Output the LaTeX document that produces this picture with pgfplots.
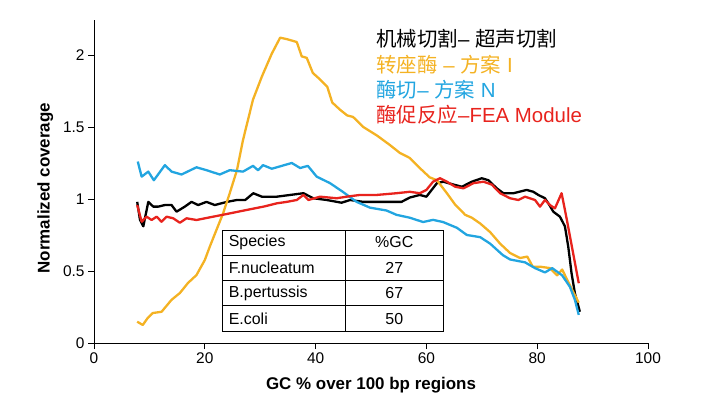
\documentclass[border=0pt]{standalone}
\usepackage{pgfplots}
\pgfplotsset{compat=1.18}
\usepackage{fontspec}
\setmainfont{Liberation Sans}
\newfontfamily\cjk{Noto Sans CJK SC}
\definecolor{cyel}{HTML}{F4B223}
\definecolor{cblue}{HTML}{22A5E0}
\definecolor{cred}{HTML}{E8231D}
\begin{document}
\begin{tikzpicture}[x=1bp,y=1bp]
\path[use as bounding box] (0,0) rectangle (707,398);
\begin{axis}[
  at={(94bp,55bp)}, anchor=south west,
  scale only axis, width=554bp, height=322.6bp,
  xmin=0, xmax=100, ymin=0, ymax=2.24,
  axis lines*=left,
  axis line style={black, line width=0.9bp},
  xtick={0,20,40,60,80,100},
  ytick={0,0.5,1,1.5,2},
  tick style={black, line width=0.9bp},
  tick align=outside,
  major tick length=6bp,
  /pgf/number format/assume math mode=true,
  ticklabel style={font=\fontsize{15.5}{18}\selectfont},
  yticklabel style={/pgf/number format/fixed},
  xlabel={GC \% over 100 bp regions},
  ylabel={Normalized coverage},
  xlabel style={font=\bfseries\fontsize{17}{20}\selectfont, at={(axis description cs:0.5,-0.130)}, anchor=center},
  ylabel style={font=\bfseries\fontsize{17}{20}\selectfont, at={(axis description cs:-0.088,0.48)}, anchor=center},
  legend style={draw=none, fill=none, at={(axis description cs:0.506,0.978)}, anchor=north west,
    font=\fontsize{20.5}{24}\selectfont, cells={anchor=west}, row sep=2.5bp, inner sep=0pt},
  legend image code/.code={},
  every axis plot/.append style={line width=2.3bp, line join=round},
]
\addplot[black] coordinates {
(7.8,0.98)(8.3,0.855)(8.9,0.81)(9.8,0.98)(10.7,0.947)(11.6,0.947)(12.8,0.958)(14.0,0.958)(14.9,0.912)(16.4,0.947)(17.6,0.98)(18.8,0.958)(20.3,0.98)(21.8,0.958)(24.0,0.98)(25.8,0.993)(27.3,0.993)(28.75,1.04)(30.3,1.016)(33.0,1.016)(35.4,1.028)(37.8,1.04)(39.6,1.005)(42.0,0.993)(44.7,0.974)(46.2,0.993)(48.6,0.98)(52.2,0.98)(55.5,0.98)(57.0,1.01)(58.8,1.028)(60.0,1.016)(61.9,1.11)(63.05,1.12)(64.9,1.10)(66.4,1.085)(68.2,1.12)(70.0,1.144)(71.2,1.13)(72.7,1.074)(73.9,1.04)(75.7,1.04)(78.1,1.063)(79.3,1.05)(80.2,1.028)(81.4,1.005)(82.2,0.958)(82.9,0.912)(84.1,0.877)(85.0,0.81)(85.6,0.67)(86.2,0.484)(86.8,0.345)(87.7,0.217)
};
\addlegendentry{\textcolor{black}{{\cjk 机械切割}– {\cjk 超声切割}}}
\addplot[cyel] coordinates {
(7.8,0.148)(8.8,0.125)(9.7,0.174)(10.6,0.208)(12.2,0.217)(14.0,0.30)(15.5,0.347)(16.97,0.417)(18.5,0.472)(20.0,0.576)(20.9,0.669)(22.1,0.785)(23.3,0.90)(24.5,1.04)(25.8,1.20)(26.9,1.41)(28.7,1.69)(30.3,1.85)(32.1,2.01)(33.6,2.12)(34.8,2.11)(36.6,2.09)(37.5,1.99)(38.4,1.98)(39.5,1.875)(40.8,1.83)(42.1,1.78)(43.0,1.67)(44.4,1.62)(45.7,1.58)(46.75,1.57)(48.6,1.50)(51.1,1.44)(53.4,1.375)(55.2,1.32)(57.0,1.285)(58.8,1.215)(60.6,1.15)(61.9,1.13)(63.7,1.04)(65.2,0.96)(67.0,0.89)(68.2,0.87)(69.7,0.83)(71.5,0.77)(73.3,0.69)(75.1,0.625)(76.9,0.59)(78.2,0.60)(79.2,0.53)(80.5,0.53)(82.3,0.52)(83.6,0.47)(84.5,0.51)(85.4,0.44)(86.3,0.37)(87.5,0.28)
};
\addlegendentry{\textcolor{cyel}{{\cjk 转座酶} – {\cjk 方案} I}}
\addplot[cblue] coordinates {
(7.9,1.26)(8.6,1.155)(9.8,1.19)(10.8,1.13)(12.8,1.235)(14.0,1.19)(15.8,1.17)(18.5,1.22)(20.3,1.20)(22.7,1.17)(24.5,1.20)(26.9,1.19)(28.7,1.23)(29.6,1.20)(30.5,1.235)(32.1,1.21)(35.7,1.25)(37.2,1.215)(38.6,1.23)(40.2,1.155)(42.6,1.11)(44.9,1.05)(47.4,0.98)(49.8,0.94)(52.8,0.92)(54.6,0.89)(57.0,0.87)(59.4,0.84)(61.2,0.855)(63.0,0.84)(65.5,0.80)(67.3,0.75)(69.7,0.735)(71.5,0.69)(73.8,0.61)(75.1,0.58)(77.8,0.56)(79.6,0.52)(81.4,0.49)(82.7,0.52)(84.5,0.47)(85.9,0.39)(86.8,0.30)(87.5,0.195)
};
\addlegendentry{\textcolor{cblue}{{\cjk 酶切}– {\cjk 方案} N}}
\addplot[cred] coordinates {
(7.8,0.958)(8.6,0.842)(9.5,0.877)(10.4,0.854)(11.3,0.877)(12.2,0.842)(13.1,0.877)(14.3,0.866)(15.5,0.835)(16.7,0.866)(18.5,0.854)(21.5,0.877)(24.5,0.90)(27.6,0.924)(30.6,0.947)(33.0,0.97)(34.8,0.98)(36.6,0.993)(37.8,1.028)(38.7,0.993)(40.8,1.016)(43.8,1.005)(45.6,1.016)(48.0,1.028)(51.0,1.028)(54.6,1.04)(57.0,1.05)(58.8,1.04)(60.0,1.063)(61.2,1.12)(62.45,1.144)(63.7,1.12)(65.2,1.085)(66.7,1.074)(68.5,1.11)(70.3,1.12)(71.8,1.10)(73.3,1.04)(75.1,1.005)(76.6,0.993)(77.8,1.016)(79.6,0.993)(80.5,0.947)(81.4,0.993)(82.3,0.958)(83.2,0.935)(84.4,1.04)(85.3,0.866)(87.5,0.415)
};
\addlegendentry{\textcolor{cred}{{\cjk 酶促反应}–FEA Module}}
% table
\draw[fill=white, line width=0.8bp] (axis cs:23.2,0.078) rectangle (axis cs:63.05,0.785);
\draw[line width=0.8bp] (axis cs:23.2,0.611) -- (axis cs:63.05,0.611);
\draw[line width=0.8bp] (axis cs:23.2,0.4375) -- (axis cs:63.05,0.4375);
\draw[line width=0.8bp] (axis cs:23.2,0.259) -- (axis cs:63.05,0.259);
\draw[line width=0.8bp] (axis cs:45.4,0.078) -- (axis cs:45.4,0.785);
\begin{scope}[every node/.style={font=\fontsize{16}{19}\selectfont, inner sep=0pt}]
\node[anchor=west] at (axis cs:24.3,0.698) {Species};
\node[anchor=west] at (axis cs:24.3,0.524) {F.nucleatum};
\node[anchor=west] at (axis cs:24.3,0.348) {B.pertussis};
\node[anchor=west] at (axis cs:24.3,0.1685) {E.coli};
\node at (axis cs:54.2,0.698) {\%GC};
\node at (axis cs:54.2,0.524) {27};
\node at (axis cs:54.2,0.348) {67};
\node at (axis cs:54.2,0.1685) {50};
\end{scope}
\end{axis}
\end{tikzpicture}
\end{document}
